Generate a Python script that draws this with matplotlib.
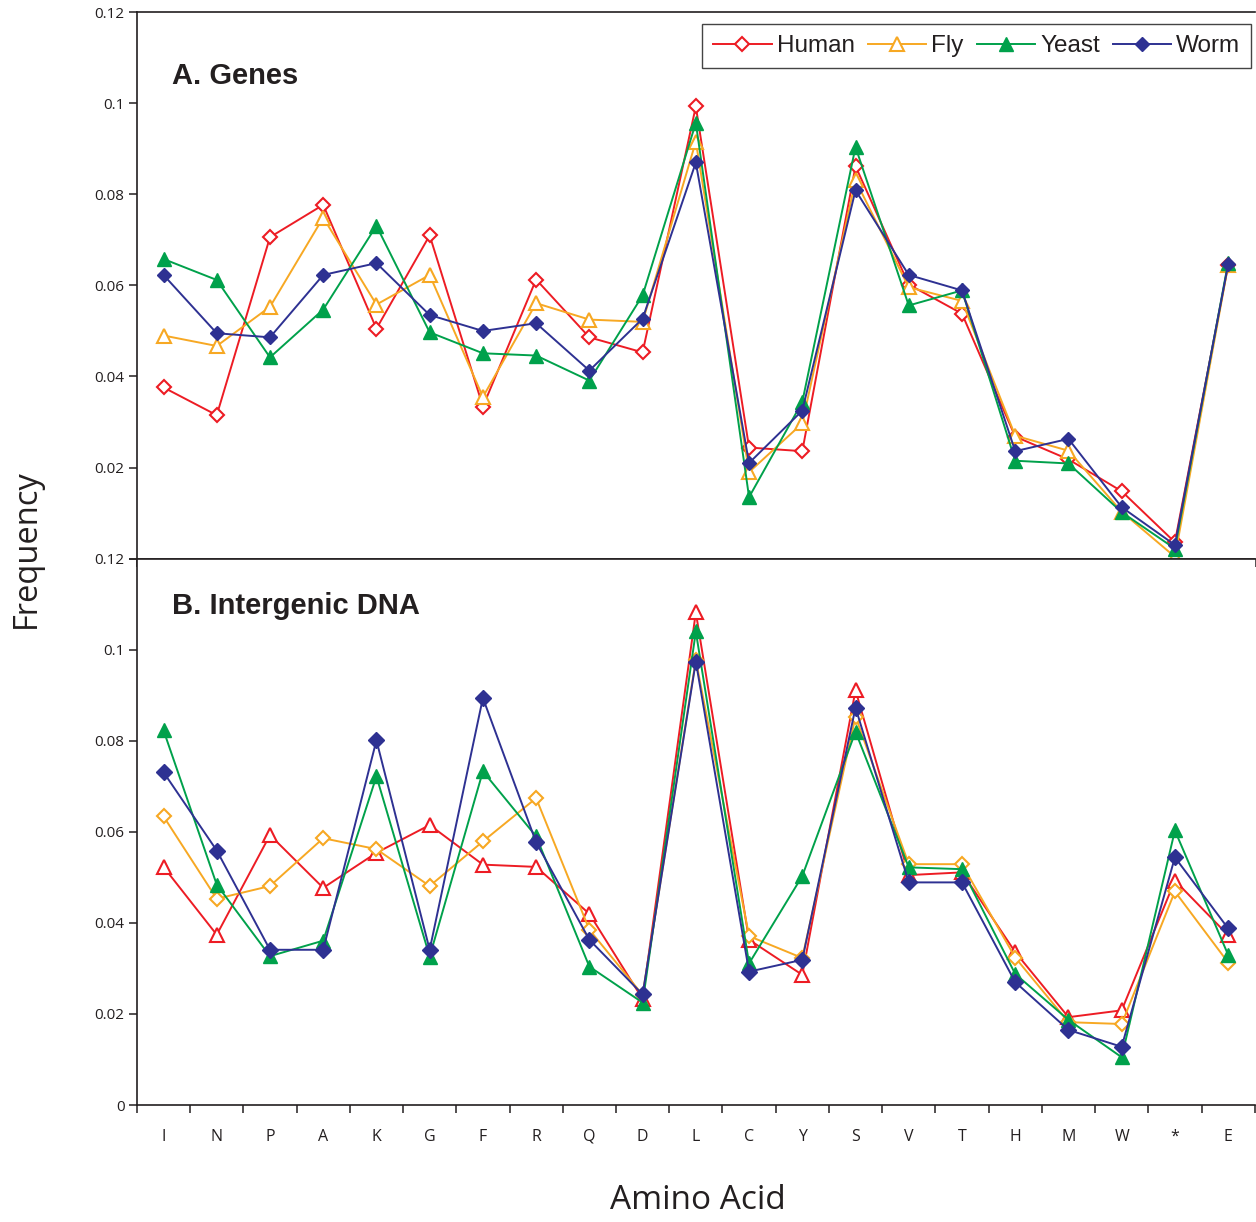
"""
Amino acid frequency: genes vs intergenic DNA
"""

import matplotlib
matplotlib.use('Agg')
import matplotlib.pyplot as plt
import numpy as np

plt.rcParams['font.family'] = ['Open Sans', 'DejaVu Sans']

# data
amino = ['I', 'N', 'P', 'A', 'K', 'G', 'F', 'R', 'Q', 'D', 'L',
         'C', 'Y', 'S', 'V', 'T', 'H', 'M', 'W', '*', 'E']

genes_human = [0.0376, 0.0315, 0.0706, 0.0777, 0.0505, 0.0710, 0.0334, 0.0613, 0.0486, 0.0453, 0.0993,
               0.0244, 0.0236, 0.0862, 0.0602, 0.0538, 0.0268, 0.0218, 0.0148, 0.0036, 0.0644]
genes_fly = [0.0490, 0.0467, 0.0553, 0.0749, 0.0558, 0.0623, 0.0355, 0.0561, 0.0525, 0.0520, 0.0916,
             0.0190, 0.0297, 0.0831, 0.0596, 0.0566, 0.0270, 0.0237, 0.0103, 0.0004, 0.0644]
genes_yeast = [0.0658, 0.0612, 0.0442, 0.0547, 0.0731, 0.0497, 0.0451, 0.0446, 0.0391, 0.0578, 0.0957,
               0.0135, 0.0344, 0.0904, 0.0556, 0.0589, 0.0215, 0.0209, 0.0102, 0.0022, 0.0650]
genes_worm = [0.0623, 0.0495, 0.0486, 0.0623, 0.0649, 0.0535, 0.0500, 0.0517, 0.0413, 0.0527, 0.0870,
              0.0210, 0.0325, 0.0809, 0.0623, 0.0589, 0.0236, 0.0263, 0.0113, 0.0030, 0.0646]

inter_human = [0.0523, 0.0374, 0.0593, 0.0477, 0.0554, 0.0615, 0.0528, 0.0523, 0.0420, 0.0233, 0.1082,
               0.0363, 0.0286, 0.0911, 0.0505, 0.0511, 0.0336, 0.0193, 0.0208, 0.0493, 0.0373]
inter_fly = [0.0634, 0.0453, 0.0481, 0.0586, 0.0562, 0.0481, 0.0579, 0.0674, 0.0385, 0.0242, 0.0978,
             0.0371, 0.0323, 0.0853, 0.0529, 0.0529, 0.0324, 0.0182, 0.0178, 0.0469, 0.0313]
inter_yeast = [0.0823, 0.0484, 0.0327, 0.0361, 0.0722, 0.0326, 0.0733, 0.0590, 0.0304, 0.0225, 0.1040,
               0.0311, 0.0503, 0.0820, 0.0522, 0.0518, 0.0288, 0.0187, 0.0105, 0.0603, 0.0330]
inter_worm = [0.0731, 0.0559, 0.0341, 0.0341, 0.0801, 0.0341, 0.0894, 0.0577, 0.0363, 0.0243, 0.0974,
              0.0293, 0.0319, 0.0873, 0.0489, 0.0489, 0.0270, 0.0165, 0.0128, 0.0544, 0.0388]

RED = '#ED1C24'
ORANGE = '#F7A823'
GREEN = '#00A14B'
BLUE = '#2E3192'
TXT = '#231F20'

x = np.arange(len(amino))

fig, axes = plt.subplots(2, 1, figsize=(12.56, 12.22), dpi=100, sharex=True)
plt.subplots_adjust(left=0.109, right=0.999, top=0.990, bottom=0.0957, hspace=0.0)
ax1, ax2 = axes

lw = 1.4

# A. Genes
ax1.plot(x, genes_human, '-', color=RED, lw=lw, marker='D', ms=7, mfc='white', mec=RED, mew=1.5, label='Human')
ax1.plot(x, genes_fly, '-', color=ORANGE, lw=lw, marker='^', ms=10, mfc='white', mec=ORANGE, mew=1.5, label='Fly')
ax1.plot(x, genes_yeast, '-', color=GREEN, lw=lw, marker='^', ms=10, mfc=GREEN, mec=GREEN, label='Yeast')
ax1.plot(x, genes_worm, '-', color=BLUE, lw=lw, marker='D', ms=7.5, mfc=BLUE, mec=BLUE, label='Worm')

# B. Intergenic DNA (human / fly markers swapped as in the original)
ax2.plot(x, inter_human, '-', color=RED, lw=lw, marker='^', ms=10, mfc='white', mec=RED, mew=1.5)
ax2.plot(x, inter_fly, '-', color=ORANGE, lw=lw, marker='D', ms=6.8, mfc='white', mec=ORANGE, mew=1.5)
ax2.plot(x, inter_yeast, '-', color=GREEN, lw=lw, marker='^', ms=10, mfc=GREEN, mec=GREEN)
ax2.plot(x, inter_worm, '-', color=BLUE, lw=lw, marker='D', ms=8.5, mfc=BLUE, mec=BLUE)

yticks = [0, 0.02, 0.04, 0.06, 0.08, 0.1, 0.12]
for ax in axes:
    ax.set_xlim(-0.5, len(amino) - 0.5)
    ax.set_ylim(0, 0.12)
    ax.set_yticks(yticks)
    ax.spines['right'].set_visible(False)
    for s in ['left', 'bottom', 'top']:
        ax.spines[s].set_linewidth(1.2)
        ax.spines[s].set_color(TXT)
    ax.set_xticks(np.arange(-0.5, len(amino), 1))
    ax.set_xticks(x, minor=True)
    ax.tick_params(axis='x', which='major', direction='out', length=6, width=1.1, color=TXT, labelbottom=False)
    ax.tick_params(axis='x', which='minor', length=0)
    ax.tick_params(axis='y', direction='out', length=6, width=1.1, color=TXT, labelsize=11, labelcolor=TXT, pad=3)

ax1.set_yticklabels([''] + ['%g' % v for v in yticks[1:]])
ax2.set_yticklabels(['%g' % v for v in yticks])
ax2.set_xticklabels(amino, minor=True, fontsize=11.5, color=TXT)
ax2.tick_params(axis='x', which='minor', labelbottom=True, pad=17)

ax1.text(0.031, 0.884, 'A. Genes', transform=ax1.transAxes, fontsize=21, fontweight='bold',
         family='Liberation Sans', color=TXT, va='center')
ax2.text(0.031, 0.914, 'B. Intergenic DNA', transform=ax2.transAxes, fontsize=21, fontweight='bold',
         family='Liberation Sans', color=TXT, va='center')

leg = ax1.legend(loc='upper right', bbox_to_anchor=(0.997, 0.978), borderaxespad=0, ncol=4,
                 prop={'family': 'Liberation Sans', 'size': 17.5}, fancybox=False, framealpha=1,
                 edgecolor='#444444', handlelength=2.4, handletextpad=0.2, columnspacing=0.55,
                 borderpad=0.45)
leg.get_frame().set_linewidth(1.0)
for t in leg.get_texts():
    t.set_color(TXT)

fig.text(0.021, 0.551, 'Frequency', rotation=90, fontsize=23.5, color=TXT, ha='center', va='center')
fig.text(0.556, 0.018, 'Amino Acid', fontsize=24, color=TXT, ha='center', va='center')

plt.savefig('out.png', dpi=100)
